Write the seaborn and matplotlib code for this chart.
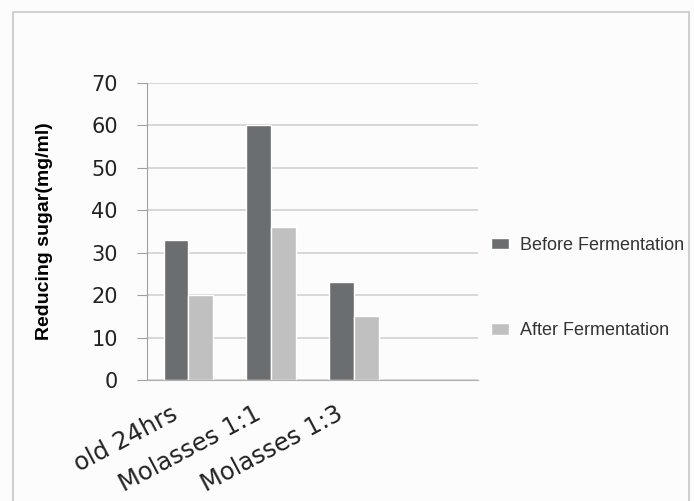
import matplotlib
matplotlib.use("Agg")
import matplotlib.pyplot as plt
from matplotlib.patches import Rectangle
from matplotlib.transforms import ScaledTranslation
import seaborn as sns
import pandas as pd

samples = ["old 24hrs", "Molasses 1:1", "Molasses 1:3"]
before = [33, 60, 23]
after = [20, 36, 15]
stages = ["Before Fermentation", "After Fermentation"]
yticks = [0, 10, 20, 30, 40, 50, 60, 70]

df = pd.DataFrame({
    "sample": samples * 2,
    "sugar": before + after,
    "stage": [stages[0]] * len(samples) + [stages[1]] * len(samples),
})

sns.set_style("white")
plt.rcParams["font.family"] = ["Liberation Sans", "DejaVu Sans"]

fig = plt.figure(figsize=(6.94, 5.01), dpi=100, facecolor="#fcfcfc")
ax = fig.add_axes([0.2118, 0.2415, 0.477, 0.593])
ax.set_facecolor("#fcfcfc")

sns.barplot(data=df, x="sample", y="sugar", hue="stage",
            palette=["#6b6e70", "#c0c0c0"], saturation=1,
            width=0.6, ax=ax)

ax.set_xlim(-0.5, 3.5)
ax.set_ylim(0, 70)
ax.set_yticks(yticks)
ax.yaxis.grid(True, color="#d8d8d8", linewidth=1.4)
ax.set_axisbelow(True)

for s in ["top", "right"]:
    ax.spines[s].set_visible(False)
ax.spines["left"].set_color("#a0a0a0")
ax.spines["bottom"].set_color("#b0b0b0")

ax.tick_params(axis="y", length=7, color="#a0a0a0", pad=14,
               labelsize=15, labelcolor="#222222", left=True)
ax.tick_params(axis="x", length=0, pad=7, labelsize=17.5, labelcolor="#222222")
for lab in ax.get_yticklabels():
    lab.set_family("DejaVu Sans")
# shift the slanted labels left/down so they end just left of each group
shift = ScaledTranslation(-18 / 100, -12 / 100, fig.dpi_scale_trans)
for lab in ax.get_xticklabels():
    lab.set_family("DejaVu Sans")
    lab.set_rotation(28)
    lab.set_ha("right")
    lab.set_va("top")
    lab.set_rotation_mode("anchor")
    lab.set_transform(lab.get_transform() + shift)

ax.set_xlabel("")
ax.set_ylabel("Reducing sugar(mg/ml)", fontsize=14, fontweight="bold",
              color="black")
ax.yaxis.set_label_coords(-0.285, 0.5)

ax.legend(loc="center left", bbox_to_anchor=(0.99, 0.31), frameon=False,
          fontsize=13, labelspacing=3.8, handlelength=1.0, handleheight=0.6,
          handletextpad=0.6, labelcolor="#333333")

fig.patches.append(Rectangle((13 / 694, -0.02), 676 / 694, 1 - 12 / 501 + 0.02,
                             transform=fig.transFigure, fill=False,
                             edgecolor="#d0d0d0", linewidth=1.5))

fig.savefig("out.png", dpi=100, facecolor=fig.get_facecolor())
